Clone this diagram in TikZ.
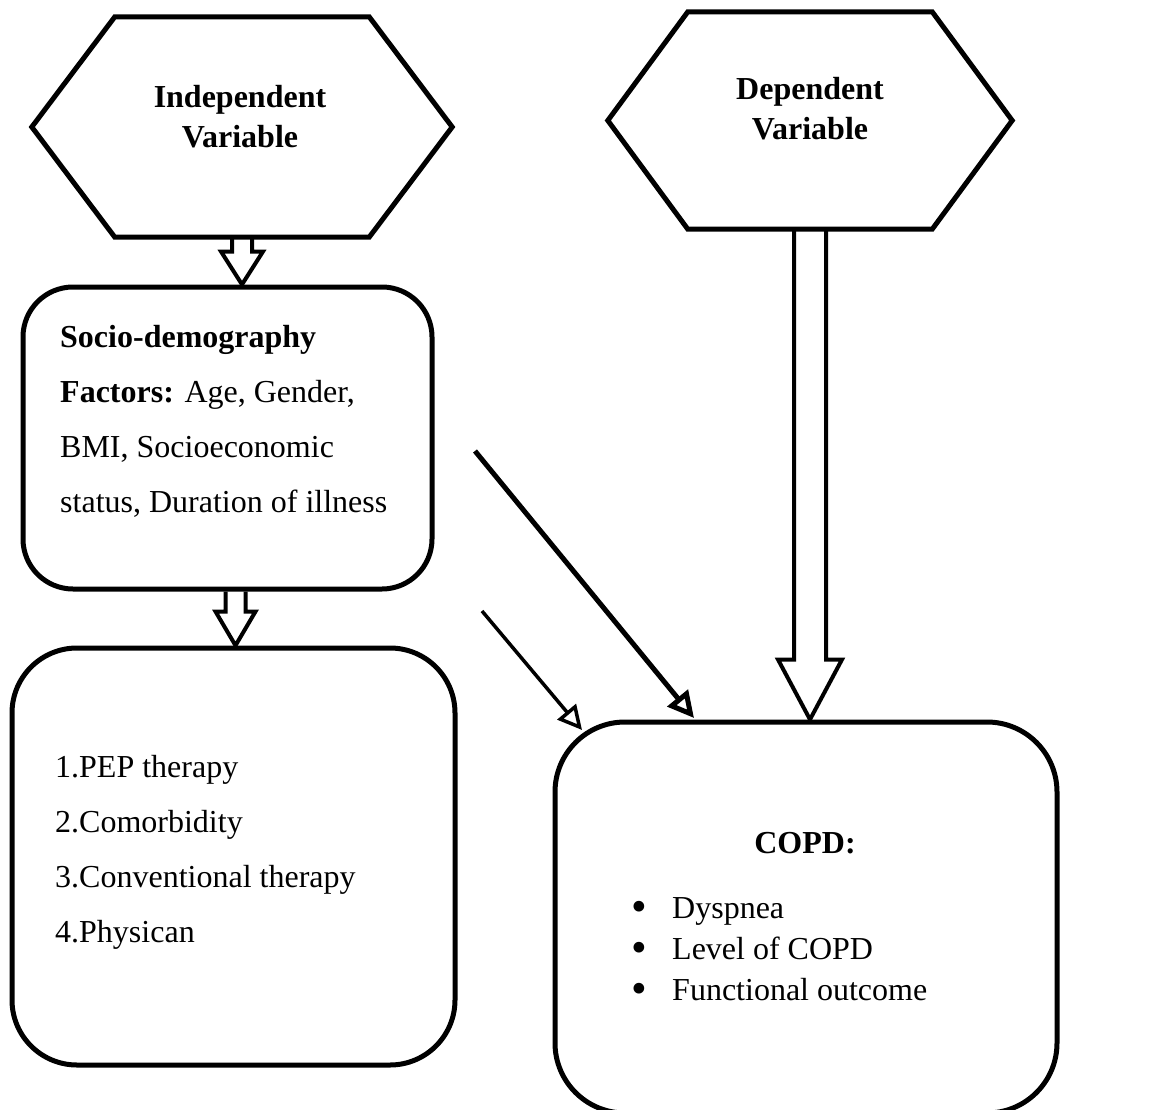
\documentclass[tikz,border=0pt]{standalone}
\usepackage{fontspec}
\setmainfont{Liberation Serif}
\usetikzlibrary{positioning,calc}
\usetikzlibrary{arrows.meta}

% hexagon round a named node: node, slant of the side points
\newcommand{\hexdraw}[2]{%
  \draw[line width=5pt] (#1.west) -- ([xshift=#2]#1.north west) -- ([xshift=-#2]#1.north east)
    -- (#1.east) -- ([xshift=-#2]#1.south east) -- ([xshift=#2]#1.south west) -- cycle;}
% hollow block arrow pointing down: from, to, shaft half, head half, head length
\newcommand{\blockarrow}[5]{%
  \draw[blockline] ($(#1)+(-#3,0)$) -- ($(#1|-#2)+(-#3,-#5)$) -- ($(#1|-#2)+(-#4,-#5)$)
    -- (#1|-#2) -- ($(#1|-#2)+(#4,-#5)$) -- ($(#1|-#2)+(#3,-#5)$) -- ($(#1)+(#3,0)$);}
\newcommand{\copdbullet}{\makebox[41pt][l]{\raisebox{-3.5pt}{\scalebox{1.4}{\textbullet}}}}

\begin{document}
\begin{tikzpicture}[x=1pt,y=-1pt,
   hexshape/.style={inner sep=0pt},
   roundbox/.style={draw,line width=5pt,rounded corners=#1,inner sep=0pt},
   bigtext/.style={font=\fontsize{32}{55}\selectfont,align=left,inner sep=0pt},
   listtext/.style={font=\fontsize{32}{41}\selectfont,align=left,inner sep=0pt},
   headtext/.style={font=\bfseries\fontsize{32}{40}\selectfont,align=center,inner sep=0pt},
   blockline/.style={line width=4pt},
   pointer/.style={-{Triangle[open,length=#1,width=#1]}}]
   \useasboundingbox (0,0) rectangle (1153,1110);

   \node[hexshape,minimum width=420pt,minimum height=220pt] (indep) at (242,127) {};
   \hexdraw{indep}{83pt}
   \node[headtext] (indeptext) at (240,117) {Independent\\Variable};

   \node[hexshape,minimum width=404pt,minimum height=217pt] (dep) at (810,120.5) {};
   \hexdraw{dep}{80pt}
   \node[headtext] (deptext) at (810,109) {Dependent\\Variable};

   \node[roundbox=50pt,minimum width=409pt,minimum height=302pt] (socio) at (227.5,438) {};
   \node[bigtext,anchor=base west] (sociotext) at (60,512)
      {\textbf{Socio-demography}\\\textbf{Factors:} Age, Gender,\\BMI, Socioeconomic\\status, Duration of illness};

   \node[roundbox=65pt,minimum width=443pt,minimum height=417pt] (factors) at (233.5,856.5) {};
   \node[bigtext,anchor=base west] (factorstext) at (55,942)
      {1.PEP therapy\\2.Comorbidity\\3.Conventional therapy\\4.Physican};

   \node[roundbox=70pt,minimum width=502pt,minimum height=391pt] (copd) at (806,917.5) {};
   \node[headtext,anchor=base] (copdtitle) at (805,853) {COPD:};
   \node[listtext,anchor=base west] (copdlist) at (631,1000)
      {\copdbullet Dyspnea\\\copdbullet Level of COPD\\\copdbullet Functional outcome};

   \blockarrow{indep.south}{socio.north}{10}{21}{33}
   \coordinate (sociobase) at ([xshift=8pt]socio.south);
   \blockarrow{sociobase}{factors.north}{10}{20}{34}
   \blockarrow{dep.south}{copd.north}{16}{32}{60}

   \coordinate (longstart) at (475,451);
   \coordinate (longend) at (694,718);
   \coordinate (shortstart) at (482,611);
   \coordinate (shortend) at (582,730);
   \draw[pointer=26pt,line width=5pt] (longstart) -- (longend);
   \draw[pointer=24pt,line width=3.5pt] (shortstart) -- (shortend);
\end{tikzpicture}
\end{document}
